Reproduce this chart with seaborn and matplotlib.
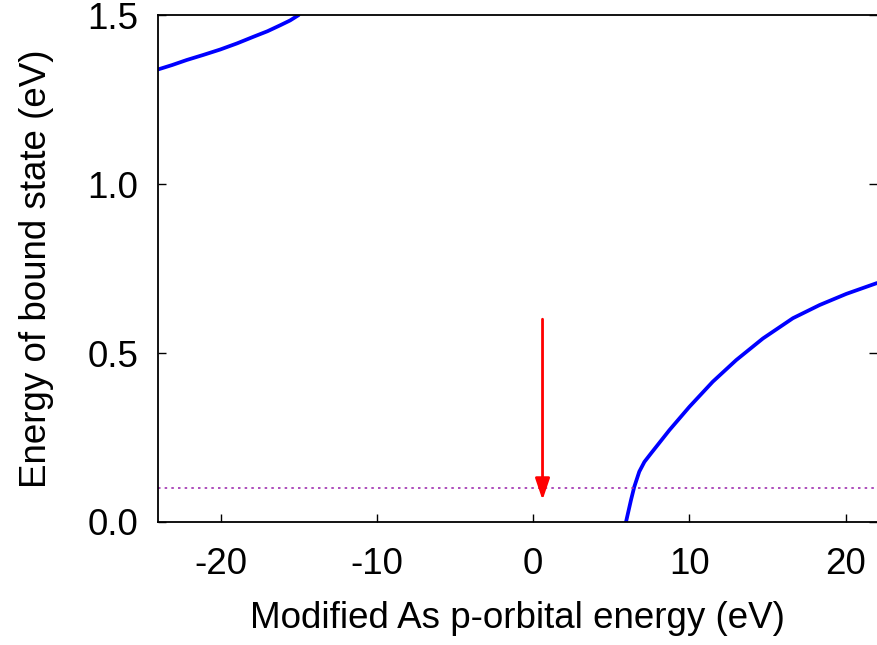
import numpy as np
import pandas as pd
import matplotlib
matplotlib.use("Agg")
import matplotlib.pyplot as plt
import seaborn as sns

# Upper bound-state branch
upper_x = [-24.0, -23.1, -22.16, -21.1, -20.02, -18.95, -17.88, -17.0, -16.17, -15.55, -15.0]
upper_e = [1.339, 1.352, 1.367, 1.382, 1.398, 1.416, 1.436, 1.452, 1.470, 1.484, 1.500]

# Lower bound-state branch
lower_x = [5.94, 6.26, 6.47, 6.79, 7.12, 7.54, 8.72, 10.0, 11.49, 12.99, 14.70, 16.62, 18.33, 20.04, 22.0]
lower_e = [0.0, 0.065, 0.104, 0.149, 0.178, 0.203, 0.272, 0.341, 0.415, 0.479, 0.543, 0.603, 0.642, 0.675, 0.707]

# Reference level and arrow
ref_level = 0.1
arrow_x = 0.6
arrow_start = 0.6
arrow_end = 0.065

xticks = [-20, -10, 0, 10, 20]
yticks = [0.0, 0.5, 1.0, 1.5]
ytick_labels = ["0.0", "0.5", "1.0", "1.5"]

sns.set_style("ticks")
plt.rcParams["font.family"] = ["Liberation Sans", "DejaVu Sans"]
plt.rcParams["axes.unicode_minus"] = False
plt.rcParams["text.color"] = "black"
plt.rcParams["axes.labelcolor"] = "black"
plt.rcParams["xtick.color"] = "black"
plt.rcParams["ytick.color"] = "black"

fig = plt.figure(figsize=(8.77, 6.45), dpi=100)
ax = fig.add_axes([0.1802, 0.1907, 0.8198, 0.786])

df_u = pd.DataFrame({"x": upper_x, "e": upper_e})
df_l = pd.DataFrame({"x": lower_x, "e": lower_e})
sns.lineplot(data=df_u, x="x", y="e", ax=ax, color="#0000ff", lw=2.7, sort=False)
sns.lineplot(data=df_l, x="x", y="e", ax=ax, color="#0000ff", lw=2.7, sort=False)

ax.axhline(ref_level, color="#a030b0", lw=1.2, ls=(0, (1.5, 2.5)))

ax.annotate("", xy=(arrow_x, arrow_end), xytext=(arrow_x, arrow_start),
            arrowprops=dict(arrowstyle="-|>,head_length=0.65,head_width=0.22",
                            color="#ff0000", lw=2.0, mutation_scale=20,
                            shrinkA=0, shrinkB=0))

ax.set_xlim(-24, 22)
ax.set_ylim(0, 1.5)
ax.set_xticks(xticks)
ax.set_yticks(yticks)
ax.set_yticklabels(ytick_labels)

for s in ["left", "bottom", "top"]:
    ax.spines[s].set_visible(True)
    ax.spines[s].set_linewidth(1.3)
    ax.spines[s].set_color("black")
ax.spines["right"].set_visible(False)

ax.tick_params(axis="x", direction="in", length=6, width=1.0, labelsize=26.5, pad=18, top=False)
ax.tick_params(axis="y", direction="in", length=6, width=1.0, labelsize=26.5, pad=14, right=True)

ax.set_xlabel("Modified As p-orbital energy (eV)", fontsize=26.5, labelpad=14)
ax.set_ylabel("Energy of bound state (eV)", fontsize=26.5, labelpad=24)

fig.savefig("out.png", dpi=100)
